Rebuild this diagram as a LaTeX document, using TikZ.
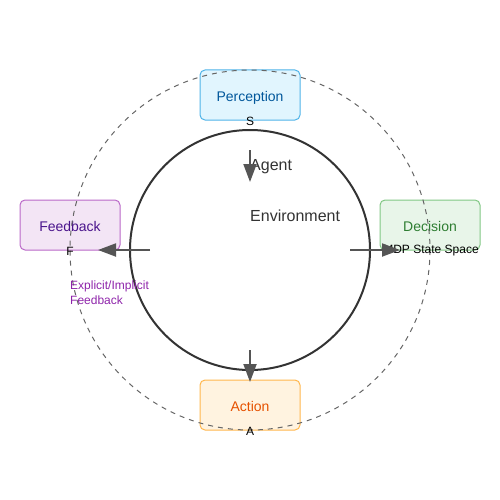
\documentclass[tikz,border=0pt]{standalone}
\usepackage{fontspec}
\setmainfont{Liberation Sans}
\usetikzlibrary{arrows.meta}
\definecolor{pfill}{HTML}{E1F5FE}\definecolor{pdraw}{HTML}{4FB3E8}\definecolor{ptext}{HTML}{01579B}
\definecolor{dfill}{HTML}{E8F5E9}\definecolor{ddraw}{HTML}{81C784}\definecolor{dtext}{HTML}{2E7D32}
\definecolor{afill}{HTML}{FFF3E0}\definecolor{adraw}{HTML}{FFB74D}\definecolor{atext}{HTML}{E65100}
\definecolor{ffill}{HTML}{F3E5F5}\definecolor{fdraw}{HTML}{BA68C8}\definecolor{ftext}{HTML}{4A148C}
\definecolor{notetext}{HTML}{8E24AA}
\definecolor{dark}{HTML}{333333}\definecolor{arrowc}{HTML}{555555}\definecolor{dashc}{HTML}{666666}
\tikzset{
  stagebox/.style={rectangle, rounded corners=5pt, minimum width=100pt, minimum height=50pt, line width=1pt, inner sep=0pt, text height=13pt, text depth=0pt, font=\fontsize{14}{16}\selectfont},
  smalllabel/.style={inner sep=0pt, font=\fontsize{12}{14}\selectfont, text=black},
  bigtext/.style={inner sep=0pt, anchor=west, font=\fontsize{16}{18}\selectfont, text=dark},
  flowarrow/.style={draw=arrowc, line width=2pt, -{Triangle[length=18pt,width=13pt]}}
}
\begin{document}
\begin{tikzpicture}[x=1pt,y=-1pt]
\useasboundingbox (0,0) rectangle (500,500);
\node[stagebox, fill=pfill, draw=pdraw, text=ptext] (perc) at (250,95) {Perception};
\node[stagebox, fill=dfill, draw=ddraw, text=dtext] (dec) at (430,225) {Decision};
\node[stagebox, fill=afill, draw=adraw, text=atext] (act) at (250,405) {Action};
\node[stagebox, fill=ffill, draw=fdraw, text=ftext] (fb) at (70,225) {Feedback};
\draw[dashc, line width=1pt, dash pattern=on 5pt off 5pt] (250,250) circle[radius=180];
\draw[dark, line width=2pt] (250,250) circle[radius=120];
\node[bigtext] (agent) at (250,166.5) {Agent};
\node[bigtext] (env) at (250,215.5) {Environment};
\node[smalllabel] (s) at (250,121) {S};
\node[smalllabel] (a) at (250,431) {A};
\node[smalllabel] (f) at (70,251) {F};
\node[smalllabel] (mdp) at (431,251) {MDP State Space};
\node[inner sep=0pt, anchor=north west, align=left, text=notetext, font=\fontsize{12}{15}\selectfont] (note) at (70,281) {Explicit/Implicit\\Feedback};
\coordinate (t0) at (250,150); \coordinate (t1) at (250,182);
\coordinate (r0) at (350,250); \coordinate (r1) at (400,250);
\coordinate (b0) at (250,350); \coordinate (b1) at (250,382);
\coordinate (l0) at (150,250); \coordinate (l1) at (98,250);
\draw[flowarrow] (t0) -- (t1);
\draw[flowarrow] (r0) -- (r1);
\draw[flowarrow] (b0) -- (b1);
\draw[flowarrow] (l0) -- (l1);
\end{tikzpicture}
\end{document}
